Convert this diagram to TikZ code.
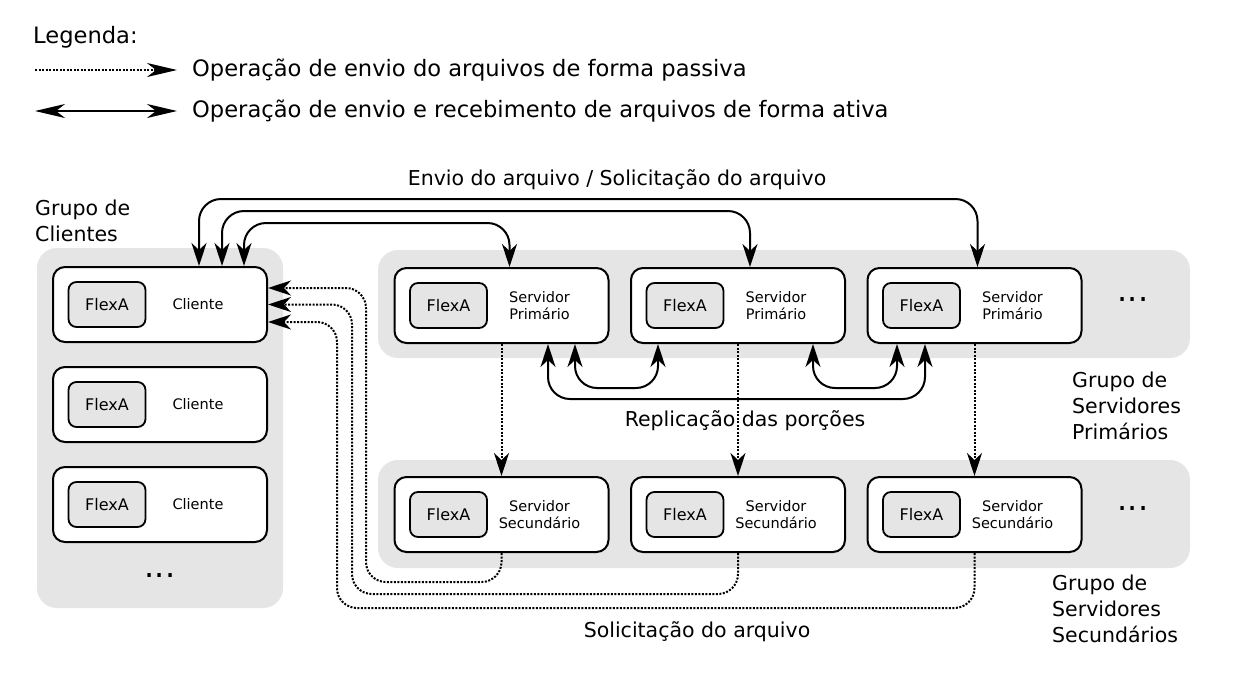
\documentclass[tikz,border=0pt]{standalone}
\usepackage{fontspec}
\setmainfont{DejaVu Sans}
\usetikzlibrary{arrows.meta}

\begin{document}
\begin{tikzpicture}[x=1pt, y=-1pt,
  grupo/.style={fill=gray!20, rounded corners=20pt},
  maquina/.style={draw, line width=2pt, rounded corners=12pt, fill=white, minimum width=214pt, minimum height=75pt},
  flexa/.style={draw, line width=1.8pt, rounded corners=8pt, fill=gray!20, minimum width=77pt, minimum height=45pt, font=\fontsize{16}{19}\selectfont},
  rotulo/.style={align=center, font=\fontsize{14.5}{17}\selectfont},
  texto/.style={inner sep=0pt, font=\fontsize{20.5}{26}\selectfont},
  textoleg/.style={inner sep=0pt, font=\fontsize{22.6}{26}\selectfont},
  reticencias/.style={inner sep=0pt, font=\fontsize{32}{32}\selectfont},
  ativa/.style={line width=2pt, {Stealth[length=23pt,width=15pt,inset=7pt]}-{Stealth[length=23pt,width=15pt,inset=7pt]}},
  passiva/.style={line width=2pt, dash pattern=on 2pt off 1.5pt, -{Stealth[length=23pt,width=15pt,inset=7pt]}}]

\useasboundingbox (0,0) rectangle (1240,681);

% ======================
% Legend
% ======================
\node[textoleg, anchor=west] (legenda) at (33,37) {Legenda:};
\node[textoleg, anchor=west] (legpas) at (192,70) {Operação de envio do arquivos de forma passiva};
\node[textoleg, anchor=west] (legat) at (192,111) {Operação de envio e recebimento de arquivos de forma ativa};
\coordinate (legpasA) at (35,70);
\coordinate (legatA) at (35,111);
\draw[line width=2pt, dash pattern=on 2pt off 1.5pt, -{Stealth[length=30pt,width=14pt,inset=9pt]}] (legpasA) -- ([xshift=-15pt]legpas.west);
\draw[line width=2pt, {Stealth[length=30pt,width=14pt,inset=9pt]}-{Stealth[length=30pt,width=14pt,inset=9pt]}] (legatA) -- ([xshift=-15pt]legat.west);

% ======================
% Groups
% ======================
\fill[grupo] (37,248) rectangle (283,608);
\fill[grupo] (378,250) rectangle (1190,358);
\fill[grupo] (378,460) rectangle (1190,568);

\node[texto, anchor=west, align=left] (gcli) at (35,221) {Grupo de\\Clientes};
\node[texto, anchor=west, align=left] (gpri) at (1072,406) {Grupo de\\Servidores\\Primários};
\node[texto, anchor=west, align=left] (gsec) at (1052,609) {Grupo de\\Servidores\\Secundários};

% ======================
% Clients
% ======================
\node[maquina] (cli1) at (160,304.5) {};
\node[flexa] at ([xshift=-53pt]cli1.center) {FlexA};
\node[rotulo] at ([xshift=38pt]cli1.center) {Cliente};

\node[maquina] (cli2) at (160,404.5) {};
\node[flexa] at ([xshift=-53pt]cli2.center) {FlexA};
\node[rotulo] at ([xshift=38pt]cli2.center) {Cliente};

\node[maquina] (cli3) at (160,504.5) {};
\node[flexa] at ([xshift=-53pt]cli3.center) {FlexA};
\node[rotulo] at ([xshift=38pt]cli3.center) {Cliente};

\node[reticencias] (clidots) at (160,576) {...};

% ======================
% Primary servers
% ======================
\node[maquina] (pri1) at (501.5,305.5) {};
\node[flexa] at ([xshift=-53pt]pri1.center) {FlexA};
\node[rotulo] at ([xshift=38pt]pri1.center) {Servidor\\Primário};

\node[maquina] (pri2) at (738,305.5) {};
\node[flexa] at ([xshift=-53pt]pri2.center) {FlexA};
\node[rotulo] at ([xshift=38pt]pri2.center) {Servidor\\Primário};

\node[maquina] (pri3) at (974.5,305.5) {};
\node[flexa] at ([xshift=-53pt]pri3.center) {FlexA};
\node[rotulo] at ([xshift=38pt]pri3.center) {Servidor\\Primário};

\node[reticencias] (pridots) at (1133,300) {...};

% ======================
% Secondary servers
% ======================
\node[maquina] (sec1) at (501.5,514.5) {};
\node[flexa] at ([xshift=-53pt]sec1.center) {FlexA};
\node[rotulo] at ([xshift=38pt]sec1.center) {Servidor\\Secundário};

\node[maquina] (sec2) at (738,514.5) {};
\node[flexa] at ([xshift=-53pt]sec2.center) {FlexA};
\node[rotulo] at ([xshift=38pt]sec2.center) {Servidor\\Secundário};

\node[maquina] (sec3) at (974.5,514.5) {};
\node[flexa] at ([xshift=-53pt]sec3.center) {FlexA};
\node[rotulo] at ([xshift=38pt]sec3.center) {Servidor\\Secundário};

\node[reticencias] (secdots) at (1133,509) {...};

% ======================
% Client <-> primary
% ======================
\draw[ativa, rounded corners=22pt] ([xshift=39pt]cli1.north) -- ++(0,-67) -| ([xshift=3pt]pri3.north);
\draw[ativa, rounded corners=22pt] ([xshift=62pt]cli1.north) -- ++(0,-55) -| ([xshift=12pt]pri2.north);
\draw[ativa, rounded corners=22pt] ([xshift=84pt]cli1.north) -- ++(0,-43) -| ([xshift=8pt]pri1.north);
\node[texto] (envio) at (617,180) {Envio do arquivo / Solicitação do arquivo};

% ======================
% Replication
% ======================
\draw[ativa, rounded corners=22pt] ([xshift=46.5pt]pri1.south) -- ++(0,55) -| ([xshift=-49.5pt]pri3.south);
\draw[ativa, rounded corners=22pt] ([xshift=73.5pt]pri1.south) -- ++(0,44) -| ([xshift=-80pt]pri2.south);
\draw[ativa, rounded corners=22pt] ([xshift=75pt]pri2.south) -- ++(0,44) -| ([xshift=-77.5pt]pri3.south);
\node[texto] (repl) at (745,421) {Replicação das porções};

% ======================
% Primary -> secondary
% ======================
\draw[passiva] (pri1.south) -- (sec1.north);
\draw[passiva] (pri2.south) -- (sec2.north);
\draw[passiva] (pri3.south) -- (sec3.north);

% ======================
% Secondary -> client
% ======================
\draw[passiva, rounded corners=20pt] (sec1.south) |- (366,582) |- ([yshift=16.5pt]cli1.east);
\draw[passiva, rounded corners=20pt] (sec2.south) |- (352,594) |- (cli1.east);
\draw[passiva, rounded corners=20pt] (sec3.south) |- (337,608) |- ([yshift=-17.5pt]cli1.east);
\node[texto] (solic) at (697,632) {Solicitação do arquivo};

\end{tikzpicture}
\end{document}
